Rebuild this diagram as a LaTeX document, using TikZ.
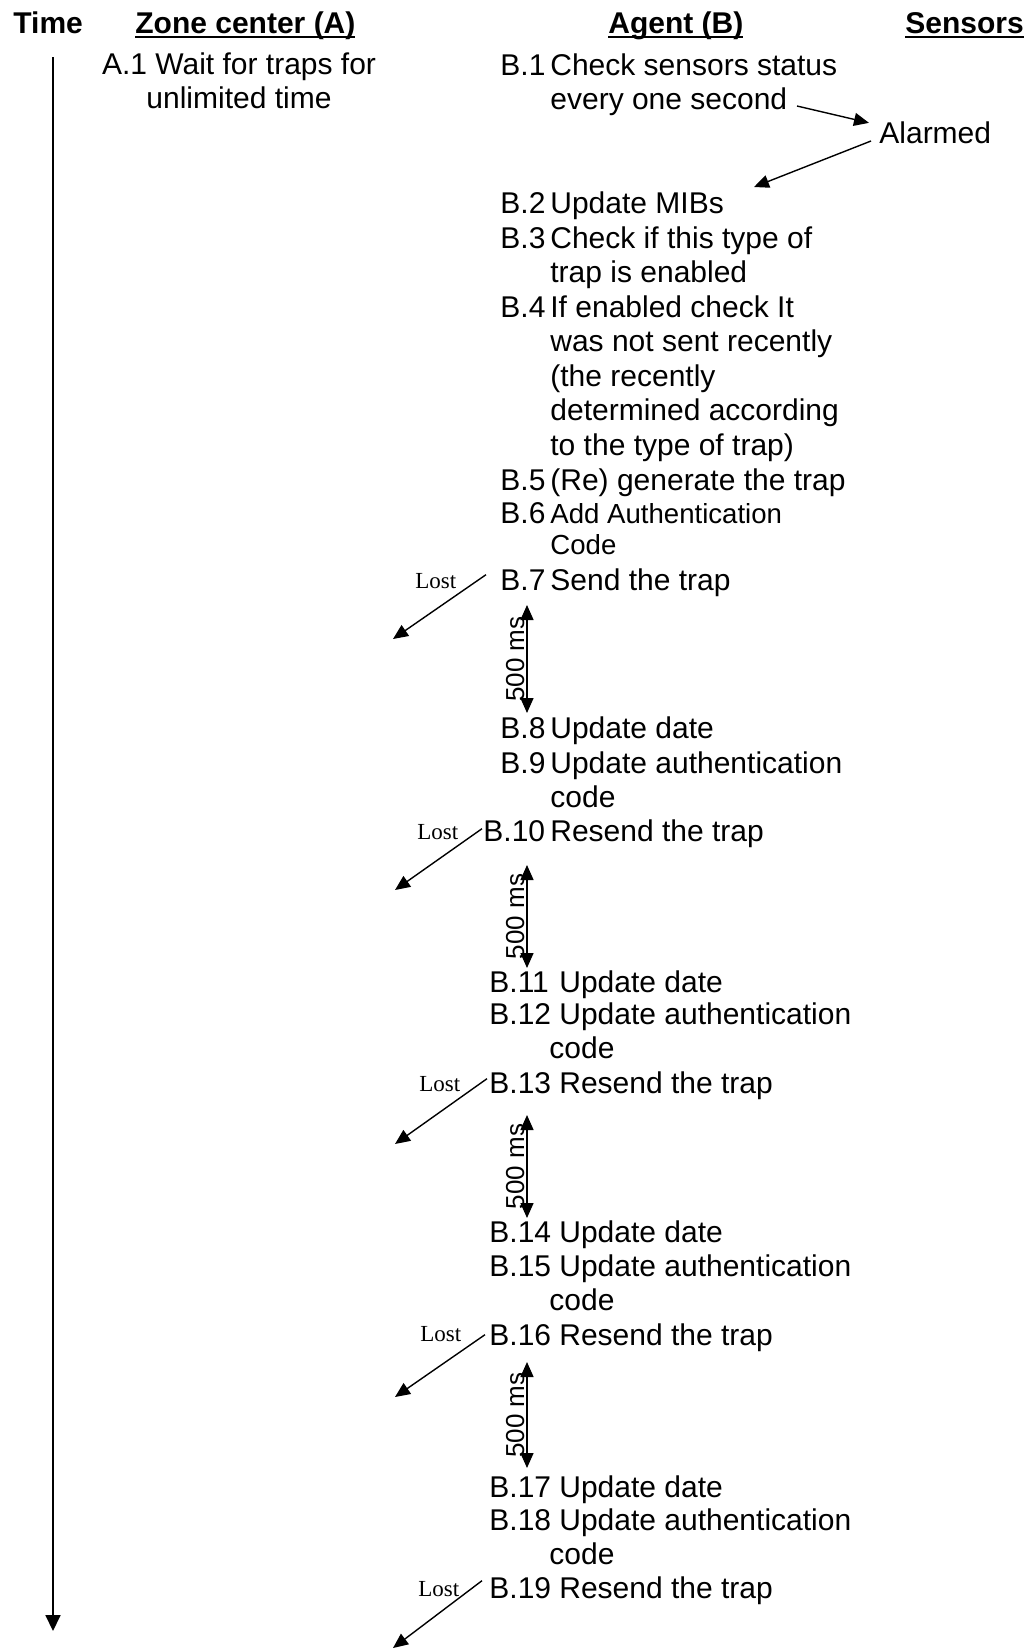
\documentclass[tikz,border=0pt]{standalone}
\usepackage{fontspec}
\setmainfont{Liberation Sans}
\newfontfamily\lostfont{Liberation Serif}
\usetikzlibrary{arrows.meta}

\newcommand{\steplines}[1]{\parbox[t]{170pt}{#1}}
\newcommand{\hdrul}[1]{\setbox0\hbox{#1}\rlap{\rule[-2.5pt]{\wd0}{1pt}}\box0}

\begin{document}
\begin{tikzpicture}[
      x=0.5pt, y=-0.5pt,
      >={Triangle[length=7.5pt,width=6.5pt]},
      font=\fontsize{15}{17.3}\selectfont,
      hdr/.style ={anchor=base west, inner sep=0pt, font=\fontsize{15}{17.3}\selectfont\bfseries},
      lbl/.style ={anchor=base west, inner sep=0pt},
      txt/.style ={anchor=base west, inner sep=0pt},
      small/.style={anchor=base west, inner sep=0pt, font=\fontsize{13.8}{15.5}\selectfont},
      lost/.style={anchor=base west, inner sep=0pt, font=\lostfont\fontsize{11.5}{13}\selectfont},
      ms/.style  ={rotate=90, anchor=south, inner sep=1pt, font=\fontsize{13}{14}\selectfont},
      flow/.style={->, line width=0.7pt},
      gap/.style ={<->, line width=0.7pt}
    ]
    \useasboundingbox (0,0) rectangle (1027,1650);
    % --- headers ---
    \node[hdr] (hTime)   at (13,33)  {Time};
    \node[hdr] (hZone)   at (135,33) {\hdrul{Zone center (A)}};
    \node[hdr] (hAgent)  at (608,33) {\hdrul{Agent (B)}};
    \node[hdr] (hSensor) at (905,33) {\hdrul{Sensors}};
    % --- time axis ---
    \coordinate (t0) at (53,57);
    \coordinate (t1) at (53,1631);
    \draw[->, >={Triangle[length=8pt,width=7.5pt]}, line width=0.9pt] (t0) -- (t1);
    % --- zone center ---
    \node[inner sep=0pt, anchor=base] (a1) at (239,74)
      {\parbox[t]{150pt}{\centering A.1 Wait for traps for\\unlimited time}};
    % --- agent steps ---
    \node[lbl] (b1)  at (500,75)  {B.1};
    \node[txt] (b1t) at (550,75)  {\steplines{Check sensors status\\every one second}};
    \node[lbl] (b2)  at (500,213) {B.2};
    \node[txt] (b2t) at (550,213) {\steplines{Update MIBs}};
    \node[lbl] (b3)  at (500,248) {B.3};
    \node[txt] (b3t) at (550,248) {\steplines{Check if this type of\\trap is enabled}};
    \node[lbl] (b4)  at (500,317) {B.4};
    \node[txt] (b4t) at (550,317) {\steplines{If enabled check It\\was not sent recently\\(the recently\\determined according\\to the type of trap)}};
    \node[lbl] (b5)  at (500,490) {B.5};
    \node[txt] (b5t) at (550,490) {\steplines{(Re) generate the trap}};
    \node[lbl] (b6)  at (500,523) {B.6};
    \node[small] (b6t) at (550,523) {\steplines{Add Authentication\\Code}};
    \node[lbl] (b7)  at (500,590) {B.7};
    \node[txt] (b7t) at (550,590) {\steplines{Send the trap}};
    \node[lbl] (b8)  at (500,738) {B.8};
    \node[txt] (b8t) at (550,738) {\steplines{Update date}};
    \node[lbl] (b9)  at (500,773) {B.9};
    \node[txt] (b9t) at (550,773) {\steplines{Update authentication\\code}};
    \node[lbl] (b10)  at (483,841) {B.10};
    \node[txt] (b10t) at (550,841) {\steplines{Resend the trap}};
    \node[lbl] (b11)  at (489,992) {B.11};
    \node[txt] (b11t) at (559,992) {\steplines{Update date}};
    \node[lbl] (b12)  at (489,1024) {B.12};
    \node[txt] (b12t) at (559,1024) {\steplines{Update authentication\\\hspace*{-5pt}code}};
    \node[lbl] (b13)  at (489,1093) {B.13};
    \node[txt] (b13t) at (559,1093) {\steplines{Resend the trap}};
    \node[lbl] (b14)  at (489,1242) {B.14};
    \node[txt] (b14t) at (559,1242) {\steplines{Update date}};
    \node[lbl] (b15)  at (489,1276) {B.15};
    \node[txt] (b15t) at (559,1276) {\steplines{Update authentication\\\hspace*{-5pt}code}};
    \node[lbl] (b16)  at (489,1345) {B.16};
    \node[txt] (b16t) at (559,1345) {\steplines{Resend the trap}};
    \node[lbl] (b17)  at (489,1497) {B.17};
    \node[txt] (b17t) at (559,1497) {\steplines{Update date}};
    \node[lbl] (b18)  at (489,1530) {B.18};
    \node[txt] (b18t) at (559,1530) {\steplines{Update authentication\\\hspace*{-5pt}code}};
    \node[lbl] (b19)  at (489,1598) {B.19};
    \node[txt] (b19t) at (559,1598) {\steplines{Resend the trap}};
    % --- sensors ---
    \node[txt] (alarm) at (879,143) {Alarmed};
    \coordinate (b1out) at (797,106);
    \coordinate (b2in)  at (754,187);
    \draw[flow] (b1out) -- ([xshift=-5pt,yshift=-1pt]alarm.north west);
    \draw[flow] ([xshift=-4pt,yshift=1pt]alarm.base west) -- (b2in);
    % --- lost traps ---
    \node[lost] (l7)  at (415,588)  {Lost};
    \node[lost] (l10) at (417,839)  {Lost};
    \node[lost] (l13) at (419,1091) {Lost};
    \node[lost] (l16) at (420,1341) {Lost};
    \node[lost] (l19) at (418,1596) {Lost};
    \coordinate (x7)  at (393,639);
    \coordinate (x10) at (395,890);
    \coordinate (x13) at (395,1144);
    \coordinate (x16) at (395,1397);
    \coordinate (x19) at (393,1648);
    \draw[flow] ([xshift=-7pt,yshift=2.5pt]b7.west)    -- (x7);
    \draw[flow] ([xshift=-0.5pt,yshift=1pt]b10.west)   -- (x10);
    \draw[flow] ([xshift=-1pt,yshift=2pt]b13.west)     -- (x13);
    \draw[flow] ([xshift=-2pt]b16.west)                -- (x16);
    \draw[flow] ([xshift=-3.5pt,yshift=3.5pt]b19.west) -- (x19);
    % --- 500 ms waits ---
    \coordinate (w7a)  at (527,605);  \coordinate (w7b)  at (527,713);
    \coordinate (w10a) at (527,865);  \coordinate (w10b) at (527,968);
    \coordinate (w13a) at (527,1115); \coordinate (w13b) at (527,1218);
    \coordinate (w16a) at (527,1362); \coordinate (w16b) at (527,1468);
    \draw[gap] (w7a)  -- node[ms]{500 ms} (w7b);
    \draw[gap] (w10a) -- node[ms]{500 ms} (w10b);
    \draw[gap] (w13a) -- node[ms]{500 ms} (w13b);
    \draw[gap] (w16a) -- node[ms]{500 ms} (w16b);
  \end{tikzpicture}
\end{document}
